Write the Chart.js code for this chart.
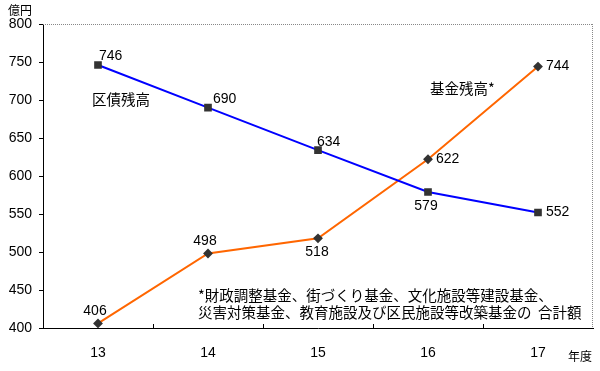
<!DOCTYPE html>
<html>
<head>
<meta charset="utf-8">
<script src="https://cdn.jsdelivr.net/npm/chart.js@4/dist/chart.umd.min.js"></script>
<style>
html,body{margin:0;padding:0;background:#fff;}
#wrap{width:600px;height:371px;position:relative;}
</style>
</head>
<body>
<div id="wrap"><canvas id="chart"></canvas></div>
<script>
const years=['13','14','15','16','17'];
const debtBalance=[746,690,634,579,552];
const fundBalance=[406,498,518,622,744];
const yTicks=[400,450,500,550,600,650,700,750,800];

const FONT='"Noto Sans CJK JP", sans-serif';
const NUMFONT='"Liberation Sans", "Noto Sans CJK JP", sans-serif';

// label offsets relative to each point [dx, dy, align]
const debtLabelPos=[[1,-9,'left'],[5,-8,'left'],[-1,-8,'left'],[-2,14,'center'],[8,0,'left']];
const fundLabelPos=[[-3,-12,'center'],[-3,-12,'center'],[-1,14,'center'],[8,0,'left'],[8,0,'left']];

const decor={
  id:'decor',
  beforeDatasetsDraw(chart){
    const {ctx,chartArea:a,scales:{x}}=chart;
    ctx.save();
    // dotted top and right frame
    ctx.strokeStyle='#888';
    ctx.lineWidth=1;
    ctx.setLineDash([1,1]);
    ctx.beginPath();
    ctx.moveTo(a.left,a.top+0.5);ctx.lineTo(a.right,a.top+0.5);
    ctx.moveTo(a.right-0.5,a.top);ctx.lineTo(a.right-0.5,a.bottom);
    ctx.stroke();
    ctx.setLineDash([]);
    // inward ticks between categories
    ctx.strokeStyle='#000';
    ctx.beginPath();
    for(let i=0;i<years.length-1;i++){
      const px=Math.round((x.getPixelForTick(i)+x.getPixelForTick(i+1))/2)+0.5;
      ctx.moveTo(px,a.bottom);ctx.lineTo(px,a.bottom-4);
    }
    ctx.stroke();
    ctx.restore();
  },
  afterDatasetsDraw(chart){
    const {ctx}=chart;
    ctx.save();
    ctx.fillStyle='#000';
    ctx.font='14px '+NUMFONT;
    ctx.textBaseline='middle';
    [[0,debtBalance,debtLabelPos],[1,fundBalance,fundLabelPos]].forEach(([di,vals,pos])=>{
      chart.getDatasetMeta(di).data.forEach((pt,i)=>{
        const [dx,dy,al]=pos[i];
        ctx.textAlign=al;
        ctx.fillText(String(vals[i]),pt.x+dx,pt.y+dy);
      });
    });
    // series names and notes
    ctx.font='14.5px '+FONT;
    ctx.textAlign='left';
    ctx.fillText('区債残高',92,99);
    ctx.fillText('基金残高*',430,88);
    ctx.fillText('*財政調整基金、街づくり基金、文化施設等建設基金、',198,295);
    ctx.fillText('災害対策基金、教育施設及び区民施設等改築基金の  合計額',198,312);
    ctx.font='12px '+FONT;
    ctx.fillText('億円',8,10);
    ctx.fillText('年度',568,356);
    ctx.restore();
  }
};

new Chart(document.getElementById('chart'),{
  type:'line',
  data:{
    labels:years,
    datasets:[
      {label:'区債残高',data:debtBalance,borderColor:'#0000ff',borderWidth:2,
       pointStyle:'rect',pointRadius:4,pointBackgroundColor:'#333',pointBorderColor:'#333',tension:0},
      {label:'基金残高',data:fundBalance,borderColor:'#ff6600',borderWidth:2,
       pointStyle:'rectRot',pointRadius:3.5,pointBackgroundColor:'#333',pointBorderColor:'#333',tension:0}
    ]
  },
  options:{
    responsive:true,
    maintainAspectRatio:false,
    animation:false,
    layout:{padding:{top:24,right:7,left:0,bottom:0}},
    plugins:{legend:{display:false},tooltip:{enabled:false}},
    scales:{
      x:{
        offset:true,
        grid:{display:false,drawTicks:false},
        border:{display:true,color:'#000',width:1},
        ticks:{color:'#000',padding:17,font:{size:14,family:NUMFONT}},
        afterFit(s){s.height=43;}
      },
      y:{
        min:400,max:800,
        afterBuildTicks(s){s.ticks=yTicks.map(v=>({value:v}));},
        grid:{drawOnChartArea:false,drawTicks:true,tickLength:4,color:'#000'},
        border:{display:true,color:'#000',width:1},
        ticks:{color:'#000',padding:7,font:{size:14,family:NUMFONT}},
        afterFit(s){s.width=43;}
      }
    }
  },
  plugins:[decor]
});
</script>
</body>
</html>
